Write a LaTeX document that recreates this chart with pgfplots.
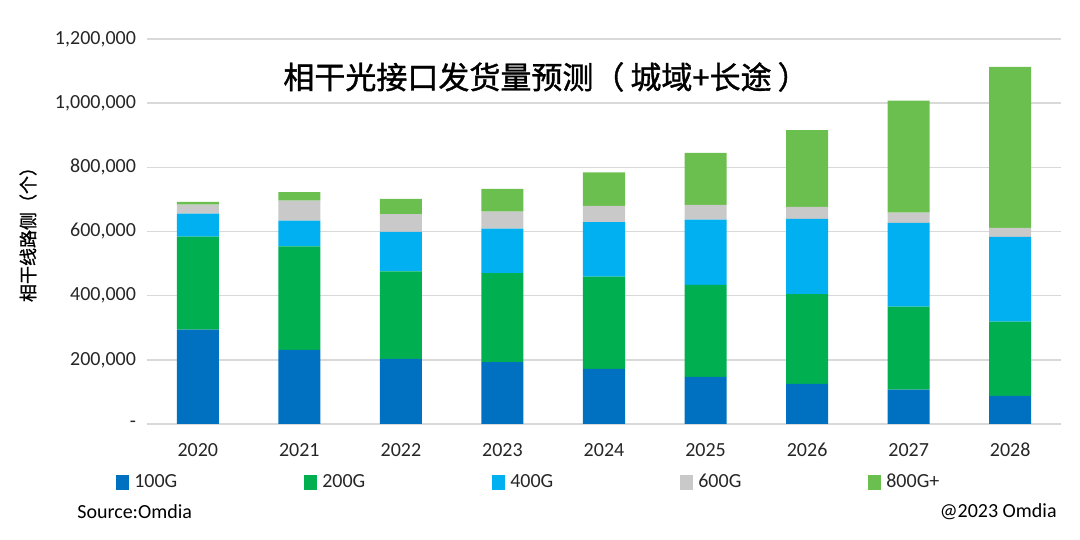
\documentclass[border=0pt]{standalone}
\usepackage{pgfplots}
\pgfplotsset{compat=1.18}
\usepackage{fontspec}
\setmainfont{Carlito}
\newfontfamily\cjk{Noto Sans CJK SC}
\newfontfamily\cjkt[FakeBold=1.2]{Noto Sans CJK SC}
\definecolor{cA}{HTML}{0070C0}
\definecolor{cB}{HTML}{00B050}
\definecolor{cC}{HTML}{00B0F0}
\definecolor{cD}{HTML}{C9C9C9}
\definecolor{cE}{HTML}{6BBF4E}
\definecolor{gridgray}{HTML}{D9D9D9}
\definecolor{txt}{HTML}{262626}
\pgfplotstableread{
x  g100   g200   g400   g600  g800
0  294000 290000 72000  28000 8000
1  231000 323000 80000  62000 27000
2  203000 273000 123000 55000 48000
3  193000 277000 139000 53000 71000
4  172000 287000 170000 51000 104000
5  147000 287000 203000 46000 162000
6  125000 280000 234000 38000 239000
7  107000 259000 261000 32000 349000
8  88000  231000 264000 28000 502000
}\datatable
\begin{document}
\begin{tikzpicture}
\useasboundingbox (0,0) rectangle (540pt,270pt);
\begin{axis}[
  at={(73.5pt,58pt)}, anchor=south west,
  scale only axis, width=457pt, height=192.5pt,
  ybar stacked, bar width=0.414,
  xmin=-0.5, xmax=8.5, ymin=0, ymax=1200000,
  xtick={0,...,8},
  xticklabels={2020,2021,2022,2023,2024,2025,2026,2027,2028},
  ytick={0,200000,400000,600000,800000,1000000,1200000},
  yticklabels={-,{200,000},{400,000},{600,000},{800,000},{1,000,000},{1,200,000}},
  scaled y ticks=false,
  /pgf/number format/assume math mode=true,
  ticklabel style={font=\fontsize{10pt}{12pt}\selectfont, text=txt},
  yticklabel style={xshift=-2pt},
  xticklabel style={yshift=-6pt},
  major tick length=0pt,
  tick style={draw=none},
  ymajorgrids, grid style={gridgray, line width=0.7pt},
  axis lines*=left,
  y axis line style={draw=none},
  x axis line style={gridgray, line width=0.9pt, -},
  legend columns=5,
  legend image code/.code={\fill[#1] (0pt,-3.75pt) rectangle (6.5pt,3.75pt);},
  legend style={at={(-0.034,-0.152)}, anchor=west, draw=none, fill=none,
    inner sep=0pt, column sep=0pt,
    nodes={inner sep=0pt, anchor=west, font=\fontsize{10pt}{12pt}\selectfont, text=txt},
    /tikz/every odd column/.append style={column sep=2.5pt}},
]
\addplot[fill=cA, draw=none] table[x=x, y=g100] {\datatable};
\addlegendentry{\makebox[85pt][l]{100G}}
\addplot[fill=cB, draw=none] table[x=x, y=g200] {\datatable};
\addlegendentry{\makebox[85pt][l]{200G}}
\addplot[fill=cC, draw=none] table[x=x, y=g400] {\datatable};
\addlegendentry{\makebox[85pt][l]{400G}}
\addplot[fill=cD, draw=none] table[x=x, y=g600] {\datatable};
\addlegendentry{\makebox[85pt][l]{600G}}
\addplot[fill=cE, draw=none] table[x=x, y=g800] {\datatable};
\addlegendentry{800G+}
\end{axis}
\node[font=\cjkt\fontsize{15.5pt}{19pt}\selectfont, text=black] at (273pt,231.5pt) {相干光接口发货量预测（\hspace{3pt}城域+长途\hspace{3pt}）};
\node[rotate=90, font=\cjkt\fontsize{9pt}{11pt}\selectfont, text=black] at (14pt,155pt) {相干线路侧（个）};
\node[anchor=west, font=\fontsize{10pt}{12pt}\selectfont, text=black, inner sep=0pt] at (38.5pt,14pt) {Source:Omdia};
\node[anchor=east, font=\fontsize{10pt}{12pt}\selectfont, text=black, inner sep=0pt] at (528.5pt,14pt) {@2023 Omdia};
\end{tikzpicture}
\end{document}
